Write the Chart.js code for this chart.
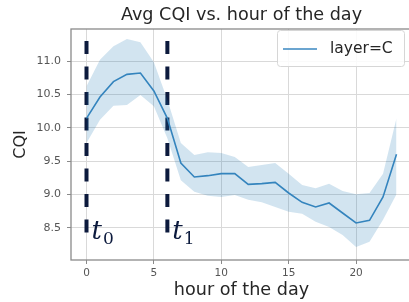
<!DOCTYPE html>
<html>
<head>
<meta charset="utf-8">
<script src="https://cdn.jsdelivr.net/npm/chart.js@4/dist/chart.umd.min.js"></script>
<style>
  html, body { margin: 0; padding: 0; background: #fff; overflow: hidden; }
  #wrap { width: 414px; height: 302px; }
</style>
</head>
<body>
<div id="wrap"><canvas id="c" width="414" height="302"></canvas></div>
<script>
const hours = [0,1,2,3,4,5,6,7,8,9,10,11,12,13,14,15,16,17,18,19,20,21,22,23];
const cqiMean = [10.14,10.46,10.69,10.80,10.82,10.55,10.14,9.47,9.26,9.28,9.31,9.31,9.15,9.16,9.18,9.02,8.88,8.81,8.87,8.72,8.57,8.61,8.96,9.60];
const cqiUpper = [10.62,11.02,11.22,11.33,11.28,10.98,10.42,9.77,9.59,9.63,9.62,9.56,9.41,9.44,9.47,9.31,9.14,9.09,9.16,9.05,9.00,9.02,9.31,10.14];
const cqiLower = [9.77,10.12,10.33,10.34,10.49,10.32,9.84,9.21,9.04,8.98,8.96,8.99,8.92,8.88,8.81,8.74,8.71,8.59,8.51,8.39,8.21,8.29,8.62,9.00];
const markerHours = [0, 6];
const markerLabels = [["t","0"],["t","1"]];
const markerSpan = [11.3, 8.39];
const xTicks = [0,5,10,15,20];
const yTicks = [8.5,9.0,9.5,10.0,10.5,11.0];
const titleText = "Avg CQI vs. hour of the day";
const xTitle = "hour of the day";
const yTitle = "CQI";
const legendLabel = "layer=C";

const blue = "#3a87c0";
const band = "rgba(31,119,180,0.2)";
const navy = "#0c1a3d";

const pts = (ys) => hours.map((h, i) => ({x: h, y: ys[i]}));

const datasets = [
  {data: pts(cqiLower), borderWidth: 0, pointRadius: 0, fill: false, borderColor: 'transparent'},
  {data: pts(cqiUpper), borderWidth: 0, pointRadius: 0, fill: '-1', backgroundColor: band, borderColor: 'transparent'},
  {label: legendLabel, data: pts(cqiMean), borderColor: blue, borderWidth: 1.6, pointRadius: 0, fill: false}
];
markerHours.forEach(h => {
  datasets.push({data: [{x: h, y: markerSpan[0]}, {x: h, y: markerSpan[1]}], borderColor: navy, borderWidth: 4, borderDash: [13, 12.5], borderCapStyle: 'butt', pointRadius: 0, fill: false});
});

const overlay = {
  id: 'overlay',
  afterDraw(chart) {
    const {ctx, chartArea: a, scales: {x, y}} = chart;
    ctx.save();
    // frame
    ctx.strokeStyle = '#8a8a8a';
    ctx.lineWidth = 1.3;
    ctx.strokeRect(a.left, a.top, a.right - a.left, a.bottom - a.top);
    // title
    ctx.fillStyle = '#262626';
    ctx.font = '17.6px "DejaVu Sans"';
    ctx.textAlign = 'center';
    ctx.textBaseline = 'middle';
    ctx.fillText(titleText, (a.left + a.right) / 2, 15);
    // t labels
    markerHours.forEach((h, i) => {
      const px = x.getPixelForValue(h) + 5;
      const py = y.getPixelForValue(8.42);
      ctx.fillStyle = navy;
      ctx.textAlign = 'left';
      ctx.textBaseline = 'alphabetic';
      ctx.font = 'italic 26px "DejaVu Serif"';
      ctx.fillText(markerLabels[i][0], px, py + 6);
      const w = ctx.measureText(markerLabels[i][0]).width;
      ctx.font = '17px "DejaVu Serif"';
      ctx.fillText(markerLabels[i][1], px + w + 1, py + 11);
    });
    // legend
    const lx = 277, ly = 30, lw = 127, lh = 36;
    ctx.fillStyle = 'rgba(255,255,255,0.85)';
    ctx.strokeStyle = '#d6d6d6';
    ctx.lineWidth = 1;
    ctx.beginPath();
    ctx.roundRect(lx + 0.5, ly + 0.5, lw, lh, 3);
    ctx.fill();
    ctx.stroke();
    ctx.strokeStyle = blue;
    ctx.lineWidth = 1.6;
    ctx.beginPath();
    ctx.moveTo(283, 49);
    ctx.lineTo(317, 49);
    ctx.stroke();
    ctx.fillStyle = '#262626';
    ctx.font = '15.5px "DejaVu Sans"';
    ctx.textAlign = 'left';
    ctx.textBaseline = 'middle';
    ctx.fillText(legendLabel, 330, 49);
    ctx.restore();
  }
};

new Chart(document.getElementById('c'), {
  type: 'line',
  data: {datasets},
  options: {
    responsive: false,
    animation: false,
    devicePixelRatio: 1,
    layout: {padding: {top: 29, left: 0, right: 2, bottom: 0}},
    plugins: {legend: {display: false}, title: {display: false}, tooltip: {enabled: false}},
    scales: {
      x: {
        type: 'linear', min: -1.15, max: 24.15,
        afterBuildTicks: s => { s.ticks = xTicks.map(v => ({value: v})); },
        afterFit: s => { s.height = 42; },
        ticks: {color: '#555', font: {family: 'DejaVu Sans', size: 10.5}, padding: 3, maxRotation: 0,
                callback: v => String(v)},
        grid: {color: '#d9d9d9', lineWidth: 1, tickLength: 4, tickColor: '#8a8a8a'},
        border: {display: false},
        title: {display: true, text: xTitle, color: '#262626', font: {family: 'DejaVu Sans', size: 17.6}, padding: {top: 0, bottom: 1.5}}
      },
      y: {
        type: 'linear', min: 8.015, max: 11.48,
        afterBuildTicks: s => { s.ticks = yTicks.map(v => ({value: v})); },
        afterFit: s => { s.width = 71; },
        ticks: {color: '#555', font: {family: 'DejaVu Sans', size: 11}, padding: 6,
                callback: v => Number(v).toFixed(1)},
        grid: {color: '#d9d9d9', lineWidth: 1, tickLength: 4, tickColor: '#8a8a8a'},
        border: {display: false},
        title: {display: true, text: yTitle, color: '#262626', font: {family: 'DejaVu Sans', size: 16}, padding: {top: 11, bottom: 0}}
      }
    }
  },
  plugins: [overlay]
});
</script>
</body>
</html>
